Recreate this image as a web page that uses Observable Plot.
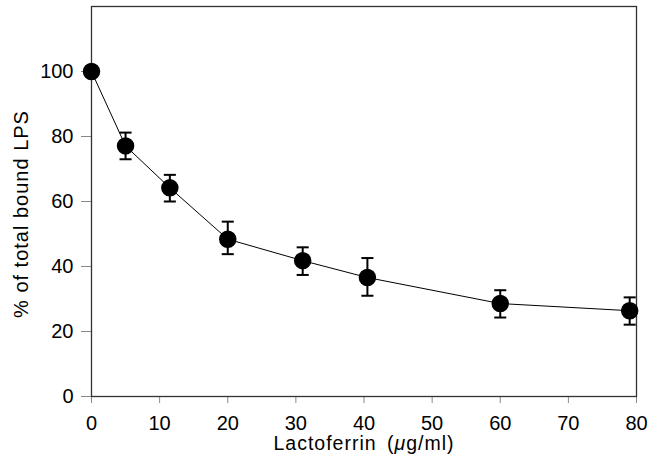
<!DOCTYPE html>
<html>
<head>
<meta charset="utf-8">
<script src="https://cdn.jsdelivr.net/npm/d3@7"></script>
<script src="https://cdn.jsdelivr.net/npm/@observablehq/plot@0.6"></script>
<style>
  html, body { margin: 0; padding: 0; background: #fff; }
  svg { display: block; }
</style>
</head>
<body>
<div id="chart"></div>
<script>
const lactoferrin = [0, 5, 11.5, 20, 31, 40.5, 60, 79];
const boundLPS    = [100, 77.1, 64.2, 48.4, 41.8, 36.6, 28.6, 26.4];
const errUpper    = [null, 81.2, 68.2, 53.8, 45.9, 42.6, 32.7, 30.5];
const errLower    = [null, 73.0, 60.0, 43.8, 37.4, 31.0, 24.3, 22.1];
const xTicks = [0, 10, 20, 30, 40, 50, 60, 70, 80];
const yTicks = [0, 20, 40, 60, 80, 100];

const data = lactoferrin.map((x, i) => ({x, y: boundLPS[i], hi: errUpper[i], lo: errLower[i]}));
const errData = data.filter(d => d.hi != null);

const capSymbol = {
  draw(context, size) {
    const w = Math.sqrt(size);
    context.moveTo(-w, 0);
    context.lineTo(w, 0);
  }
};

const font = "'Liberation Sans', Arial, Helvetica, sans-serif";

const chart = Plot.plot({
  width: 649,
  height: 463,
  marginLeft: 91,
  marginRight: 13,
  marginTop: 6,
  marginBottom: 67,
  style: {fontFamily: font, fontSize: "20px", color: "#000", background: "#fff"},
  x: {domain: [0, 80]},
  y: {domain: [0, 120]},
  marks: [
    Plot.axisX({ticks: xTicks, tickSize: 7, tickPadding: 12, stroke: "#888", fontSize: 20, label: null, tickFormat: d => String(d)}),
    Plot.axisY({ticks: yTicks, tickSize: 10, tickPadding: 8, stroke: "#888", fontSize: 20, label: null, tickFormat: d => String(d)}),
    Plot.frame({stroke: "#333", strokeWidth: 1.3}),
    Plot.line(data, {x: "x", y: "y", stroke: "#000", strokeWidth: 1}),
    Plot.ruleX(errData, {x: "x", y1: "lo", y2: "hi", stroke: "#000", strokeWidth: 2}),
    Plot.dot(errData, {x: "x", y: "hi", symbol: capSymbol, r: 3.4, stroke: "#000", strokeWidth: 2, fill: "none"}),
    Plot.dot(errData, {x: "x", y: "lo", symbol: capSymbol, r: 3.4, stroke: "#000", strokeWidth: 2, fill: "none"}),
    Plot.dot(data, {x: "x", y: "y", r: 8, fill: "#000", stroke: "#000"})
  ]
});

const svg = d3.select(chart);
// axis titles
svg.append("text")
  .attr("x", 364).attr("y", 450)
  .attr("text-anchor", "middle")
  .attr("font-family", font).attr("font-size", 19.5)
  .attr("letter-spacing", 1)
  .attr("word-spacing", 4)
  .attr("fill", "#000")
  .html('Lactoferrin (<tspan font-style="italic">μ</tspan>g/ml)');
svg.append("text")
  .attr("transform", "translate(28,214) rotate(-90)")
  .attr("text-anchor", "middle")
  .attr("font-family", font).attr("font-size", 20)
  .attr("letter-spacing", 1)
  .attr("fill", "#000")
  .text("% of total bound LPS");

document.getElementById("chart").appendChild(chart);
</script>
</body>
</html>
